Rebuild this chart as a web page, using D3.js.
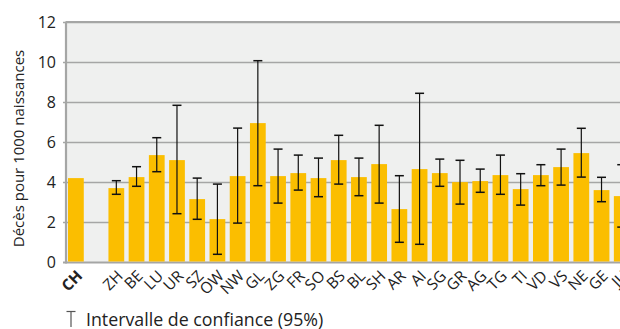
<!DOCTYPE html>
<html><head><meta charset="utf-8">
<script src="https://cdn.jsdelivr.net/npm/d3@7"></script>
<style>body{margin:0;background:#fff}svg{display:block}</style>
</head><body>
<script>
const categories = ["CH","","ZH","BE","LU","UR","SZ","OW","NW","GL","ZG","FR","SO","BS","BL","SH","AR","AI","SG","GR","AG","TG","TI","VD","VS","NE","GE","JU"];
const values = [4.22,null,3.72,4.27,5.37,5.12,3.17,2.17,4.32,6.97,4.32,4.47,4.22,5.12,4.27,4.92,2.67,4.67,4.47,4.02,4.07,4.37,3.67,4.37,4.77,5.47,3.62,3.32];
const ciLow = [null,null,3.41,3.81,4.54,2.44,2.16,0.41,1.97,3.84,2.97,3.62,3.29,3.92,3.34,2.97,1.01,0.91,3.81,2.92,3.51,3.41,2.87,3.84,3.87,4.27,3.04,1.77];
const ciHigh = [null,null,4.09,4.79,6.24,7.86,4.22,3.92,6.72,10.09,5.67,5.37,5.22,6.36,5.22,6.86,4.34,8.46,5.17,5.11,4.67,5.37,4.44,4.89,5.67,6.71,4.26,4.89];
const yTicks = [0,2,4,6,8,10,12];
const yTitle = "Décès pour 1000 naissances";
const legendText = "Intervalle de confiance (95%)";

const W = 620, H = 329;
const font = "'Open Sans', sans-serif";
const mLeft = 67, mTop = 22.5, mBottom = 262.5, mRight = 67 + 28*20.13;
const svg = d3.select("body").append("svg").attr("width", W).attr("height", H);

const x = d3.scaleBand().domain(categories.map((c,i)=>i)).range([mLeft, mRight]).paddingInner(0.22).paddingOuter(0.05);
const y = d3.scaleLinear().domain([0,12]).range([mBottom, mTop]);

svg.append("rect").attr("x", mLeft).attr("y", mTop).attr("width", mRight-mLeft).attr("height", mBottom-mTop).attr("fill", "#eff0ef");

// grid
svg.append("g").selectAll("line").data(yTicks).join("line")
  .attr("x1", mLeft-4).attr("x2", mRight).attr("y1", d=>y(d)).attr("y2", d=>y(d))
  .attr("stroke", "#a5a6a5").attr("stroke-width", d=> d===0 ? 2.2 : 1.6);
svg.append("line").attr("x1", mLeft-1).attr("x2", mLeft-1).attr("y1", mTop-1).attr("y2", mBottom+1).attr("stroke", "#a5a6a5").attr("stroke-width", 2.2);
svg.append("line").attr("x1", mLeft-1).attr("x2", mRight).attr("y1", mTop-0.5).attr("y2", mTop-0.5).attr("stroke", "#a5a6a5").attr("stroke-width", 2);

// y tick labels
svg.append("g").selectAll("text").data(yTicks).join("text")
  .attr("x", 56).attr("y", d=>y(d)).attr("dy", "0.36em").attr("text-anchor", "end")
  .attr("font-family", font).attr("font-size", 16).attr("fill", "#222").text(d=>d);

// y title
svg.append("text").attr("transform", `translate(24,${(mTop+mBottom)/2+6}) rotate(-90)`)
  .attr("text-anchor","middle").attr("font-family", font).attr("font-size", 15).attr("fill","#222").text(yTitle);

const data = categories.map((c,i)=>({c, i, v: values[i], lo: ciLow[i], hi: ciHigh[i]}));

// bars
svg.append("g").selectAll("rect").data(data.filter(d=>d.v!=null)).join("rect")
  .attr("x", d=>x(d.i)).attr("width", x.bandwidth())
  .attr("y", d=>y(d.v)).attr("height", d=>y(0)-y(d.v)-1).attr("fill", "#fbbe00");

// error bars
const eb = svg.append("g").attr("stroke", "#111").attr("stroke-width", 1.2);
data.filter(d=>d.lo!=null).forEach(d=>{
  const cx = x(d.i) + x.bandwidth()/2;
  eb.append("line").attr("x1", cx).attr("x2", cx).attr("y1", y(d.hi)).attr("y2", y(d.lo));
  eb.append("line").attr("x1", cx-4.5).attr("x2", cx+4.5).attr("y1", y(d.hi)).attr("y2", y(d.hi)).attr("stroke-width", 1.5);
  eb.append("line").attr("x1", cx-4.5).attr("x2", cx+4.5).attr("y1", y(d.lo)).attr("y2", y(d.lo)).attr("stroke-width", 1.5);
});

// x labels
svg.append("g").selectAll("text").data(data.filter(d=>d.c!=="")).join("text")
  .attr("transform", d=>`translate(${x(d.i)+x.bandwidth()/2-3},${mBottom+4}) rotate(-45)`)
  .attr("text-anchor","end").attr("dy","0.95em")
  .attr("font-family", font).attr("font-size", 15.5).attr("fill","#222")
  .attr("font-weight", d=>d.c==="CH"?"bold":"normal").text(d=>d.c);

// legend
const lg = svg.append("g").attr("stroke", "#555").attr("stroke-width", 1.2);
lg.append("line").attr("x1", 71).attr("x2", 71).attr("y1", 311).attr("y2", 327);
lg.append("line").attr("x1", 66.5).attr("x2", 75.5).attr("y1", 311.5).attr("y2", 311.5);
svg.append("text").attr("x", 86).attr("y", 326).attr("font-family", font).attr("font-size", 17.8).attr("fill","#222").text(legendText);
</script>
</body></html>
